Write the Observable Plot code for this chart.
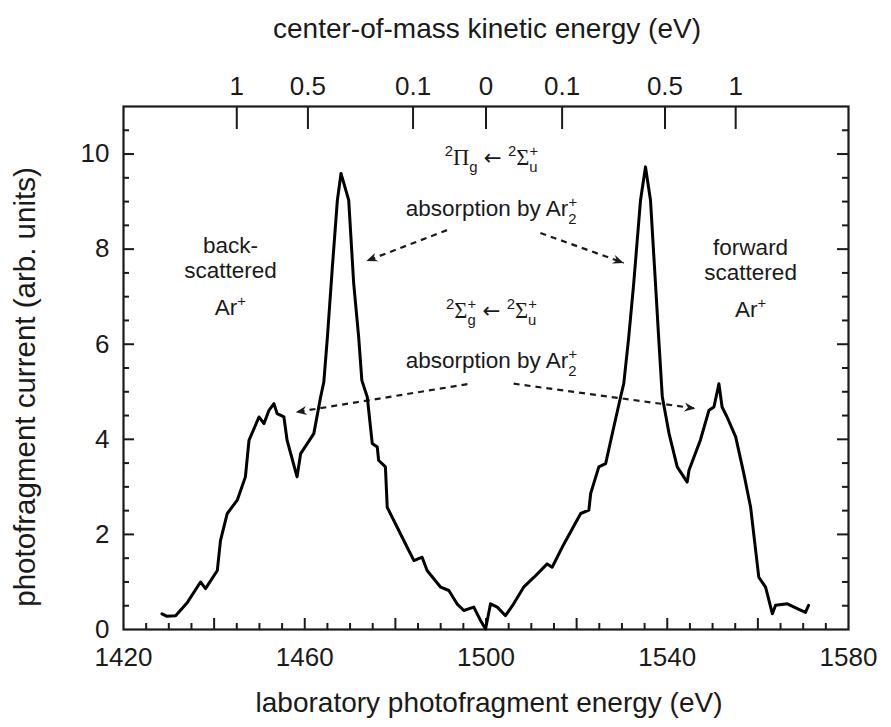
<!DOCTYPE html>
<html><head><meta charset="utf-8">
<script src="https://cdn.jsdelivr.net/npm/d3@7"></script>
<script src="https://cdn.jsdelivr.net/npm/@observablehq/plot@0.6"></script>
<style>
body{margin:0;background:#fff}
#chart svg{font-family:"Liberation Sans",Arial,Helvetica,sans-serif;background:#fff}
</style>
</head><body><div id="chart"></div>
<script>
// ---- data ----
const energy = [1428.5,1429.5,1431.5,1434.1,1437.0,1438.1,1440.7,1441.4,1442.9,1445.1,1446.9,1447.7,1449.9,1451.0,1452.1,1453.2,1453.9,1455.4,1456.1,1458.3,1459.1,1462.0,1463.5,1464.2,1465.0,1466.1,1467.2,1468.0,1469.7,1470.8,1471.9,1472.6,1473.8,1474.9,1476.0,1476.3,1477.8,1478.2,1480.4,1482.6,1484.1,1485.9,1487.0,1490.0,1491.8,1493.6,1495.1,1497.3,1498.8,1499.9,1501.0,1502.5,1504.3,1506.1,1508.3,1510.6,1513.5,1514.6,1517.2,1520.9,1522.7,1523.1,1524.9,1526.4,1528.2,1529.7,1530.4,1531.5,1532.6,1534.1,1535.2,1536.3,1537.4,1538.1,1538.9,1540.4,1542.2,1544.4,1544.8,1547.3,1549.2,1550.3,1551.4,1552.1,1553.2,1555.1,1556.9,1558.4,1560.2,1561.7,1563.2,1563.9,1566.5,1568.7,1570.5,1571.2];
const current = [0.33,0.28,0.29,0.57,1.00,0.86,1.24,1.87,2.44,2.72,3.21,3.98,4.47,4.33,4.61,4.75,4.54,4.47,3.98,3.21,3.70,4.12,4.89,5.20,6.15,7.63,9.03,9.59,9.03,7.28,6.15,5.24,4.89,3.91,3.84,3.56,3.42,2.57,2.15,1.73,1.45,1.52,1.24,0.89,0.82,0.54,0.40,0.47,0.19,0.01,0.54,0.47,0.29,0.54,0.89,1.10,1.38,1.31,1.80,2.44,2.51,2.86,3.42,3.49,4.26,4.89,5.17,6.15,7.28,9.03,9.73,9.03,7.28,6.15,4.90,4.12,3.42,3.10,3.35,3.98,4.61,4.68,5.17,4.68,4.47,4.05,3.28,2.57,1.10,0.89,0.33,0.51,0.54,0.44,0.36,0.51];

const xTickValues = [1420,1460,1500,1540,1580];
const yTickValues = [0,2,4,6,8,10];
const cmTickLabels = ["1","0.5","0.1","0","0.1","0.5","1"];
const cmTickEnergy = [1445,1460.7,1483.9,1500,1516.8,1539.5,1555.1];

const xTitle = "laboratory photofragment energy (eV)";
const yTitle = "photofragment current (arb. units)";
const topTitle = "center-of-mass kinetic energy (eV)";

// annotations: ^x = superscript, _x = subscript
const noteText = ["^2Π_g ← ^2Σ_u^+","absorption by Ar_2^+","^2Σ_g^+ ← ^2Σ_u^+","absorption by Ar_2^+",
                  "back-","scattered","Ar^+","forward","scattered","Ar^+"];
const noteX = [1501.2,1501.2,1501.2,1501.2,1443.6,1443.6,1443.6,1558.4,1558.4,1558.4];
const noteY = [9.77,8.69,6.55,5.49,7.92,7.39,6.61,7.87,7.35,6.57];

const arrowFromX = [1491.4,1512.0,1495.9,1506.1];
const arrowFromY = [8.40,8.34,5.16,5.17];
const arrowToX = [1473.6,1530.4,1458.0,1546.2];
const arrowToY = [7.75,7.71,4.57,4.65];

// ---- tables built from the arrays ----
const spectrum = energy.map((e,i)=>({e, c: current[i]}));
const notes = noteText.map((t,i)=>({t, x: noteX[i], y: noteY[i]}));
const arrows = arrowFromX.map((x1,i)=>({x1, y1: arrowFromY[i], x2: arrowToX[i], y2: arrowToY[i]}));
const xMinor = d3.range(1425,1580,5).filter(v=>v%20!==0);
const xMajor = d3.range(1440,1580,20);
const yMinor = d3.range(0.5,11,0.5).filter(v=>v%2!==0);
const yMajor = [2,4,6,8,10];

const W = 891, H = 727, mL = 123, mR = 43, mT = 106, mB = 98;
const pw = W - mL - mR, ph = H - mT - mB;
const ink = "#1a1a1a";
const noteSize = 22.5;

const chart = Plot.plot({
  width: W, height: H,
  marginLeft: mL, marginRight: mR, marginTop: mT, marginBottom: mB,
  x: {domain: [1420,1580]},
  y: {domain: [0,11]},
  style: {fontFamily: '"Liberation Sans",Arial,sans-serif', color: ink},
  marks: [
    // inward ticks
    Plot.tickX(xMinor, {x: d=>d, insetTop: ph-6, stroke: ink, strokeWidth: 2}),
    Plot.tickX(xMajor, {x: d=>d, insetTop: ph-11, stroke: ink, strokeWidth: 2}),
    Plot.tickX(cmTickEnergy, {x: d=>d, insetBottom: ph-23, stroke: ink, strokeWidth: 2}),
    Plot.tickY(yMinor, {y: d=>d, insetRight: pw-6, stroke: ink, strokeWidth: 2}),
    Plot.tickY(yMajor, {y: d=>d, insetRight: pw-11, stroke: ink, strokeWidth: 2}),
    Plot.tickY(yMinor, {y: d=>d, insetLeft: pw-6, stroke: ink, strokeWidth: 2}),
    Plot.tickY(yMajor, {y: d=>d, insetLeft: pw-11, stroke: ink, strokeWidth: 2}),
    Plot.frame({stroke: ink, strokeWidth: 2.2}),
    // tick labels
    Plot.axisX({ticks: xTickValues, tickSize: 0, tickPadding: 18, fontSize: 26, tickFormat: d=>String(d), label: null, fill: ink}),
    Plot.axisY({ticks: yTickValues, tickSize: 0, tickPadding: 14, fontSize: 26, tickFormat: d=>String(d), label: null, fill: ink}),
    Plot.text(cmTickEnergy, {x: d=>d, text: (d,i)=>cmTickLabels[i], frameAnchor: "top", lineAnchor: "bottom", dy: -12, fontSize: 26, fill: ink}),
    // axis titles
    Plot.text([topTitle], {frameAnchor: "top", textAnchor: "middle", lineAnchor: "bottom", dy: -69, dx: 1, fontSize: 28, fill: ink}),
    Plot.text([xTitle], {frameAnchor: "bottom", textAnchor: "middle", lineAnchor: "bottom", dy: 82, dx: 3, fontSize: 28, fill: ink}),
    Plot.text([yTitle], {frameAnchor: "left", textAnchor: "middle", rotate: -90, dx: -98, dy: 19, fontSize: 29.5, fill: ink}),
    // annotations
    Plot.link(arrows, {x1: "x1", y1: "y1", x2: "x2", y2: "y2", stroke: ink, strokeWidth: 2.2, strokeDasharray: "6,5", markerEnd: "arrow"}),
    Plot.text(notes, {x: "x", y: "y", text: "t", lineAnchor: "bottom", fontSize: noteSize, fill: ink}),
    // the spectrum
    Plot.line(spectrum, {x: "e", y: "c", stroke: "#000", strokeWidth: 3, strokeLinejoin: "round"})
  ]
});
document.getElementById("chart").appendChild(chart);

// ---- post-process: rich sub/superscripts and filled arrowheads ----
const NS = "http://www.w3.org/2000/svg";
function parseRich(s){
  const segs=[]; let i=0;
  while(i<s.length){
    const ch=s[i];
    if((ch==="^"||ch==="_") && i+1<s.length){segs.push({t:s[i+1],k:ch==="^"?"sup":"sub"}); i+=2;}
    else if(ch==="←"){ segs.push({t:ch,k:"arrow"}); i++; }
    else { if(segs.length && !segs[segs.length-1].k) segs[segs.length-1].t+=ch; else segs.push({t:ch,k:null}); i++; }
  }
  return segs;
}
chart.querySelectorAll("text").forEach(el=>{
  const s = el.textContent;
  if(!/[\^_]/.test(s)) return;
  const fs = noteSize, ss = 0.66;
  const segs = parseRich(s);
  el.textContent = "";
  let shift = 0;
  segs.forEach((sg,j)=>{
    const ts = document.createElementNS(NS,"tspan");
    const target = sg.k==="sup" ? -0.42*fs : sg.k==="sub" ? 0.32*fs : 0;
    ts.setAttribute("dy", target-shift); shift = target;
    if(sg.k==="sup"||sg.k==="sub"){ ts.setAttribute("font-size", fs*ss); }
    if(sg.k==="arrow"){ ts.setAttribute("font-family", '"DejaVu Sans",sans-serif'); ts.setAttribute("font-size", fs*0.95); }
    if(sg.k==="sup" && j>0 && segs[j-1].k==="sub") ts.setAttribute("dx", -fs*ss*0.55);
    if(/[ΠΣ]/.test(sg.t)) ts.setAttribute("font-family", '"Liberation Serif","Times New Roman",serif');
    ts.textContent = sg.t;
    el.appendChild(ts);
  });
});
chart.querySelectorAll("marker").forEach(m=>{
  m.setAttribute("viewBox","-12 -7 14 14");
  m.setAttribute("markerUnits","userSpaceOnUse");
  m.setAttribute("markerWidth",14);
  m.setAttribute("markerHeight",14);
  m.setAttribute("stroke","none");
  m.setAttribute("fill",ink);
  m.setAttribute("stroke-dasharray","none");
  m.innerHTML = "";
  const p = document.createElementNS(NS,"path");
  p.setAttribute("d","M-11,-4.5L0,0L-11,4.5L-7.5,0Z");
  p.setAttribute("stroke-dasharray","none");
  m.appendChild(p);
});
</script>
</body></html>
